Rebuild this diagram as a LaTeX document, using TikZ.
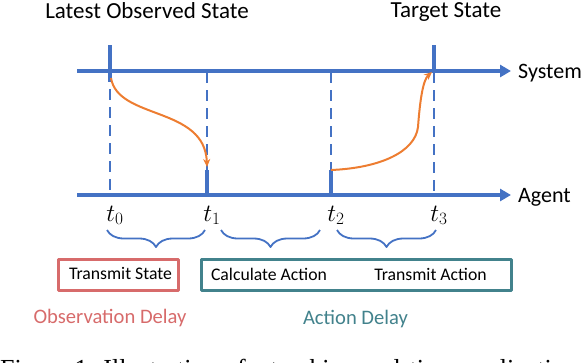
\documentclass[tikz,border=0pt]{standalone}
\usepackage{fontspec}
\setmainfont{Carlito}
\newfontfamily\capfont{Liberation Serif}
\usepackage{tikz}
\usetikzlibrary{arrows.meta,calc,positioning,decorations.pathreplacing}
\definecolor{axc}{RGB}{68,114,196}
\definecolor{orc}{RGB}{237,125,49}
\definecolor{obc}{RGB}{215,107,107}
\definecolor{acc}{RGB}{66,130,140}

\begin{document}
\begin{tikzpicture}[x=1pt,y=-1pt,line join=round,
  axisline/.style={axc,line width=4pt,-{Triangle[length=11pt,width=12pt]}},
  solidtick/.style={axc,line width=4pt},
  dashtick/.style={axc,line width=2.5pt,dash pattern=on 11pt off 7pt},
  flow/.style={orc,line width=2pt,-{Stealth[length=8pt,width=7pt]}},
  spanbrace/.style={axc,line width=1.8pt,decorate,decoration={brace,mirror,amplitude=17pt,aspect=0.5}},
  lbl/.style={font=\fontsize{23}{26}\selectfont,anchor=base},
  boxtxt/.style={font=\fontsize{17.7}{20}\selectfont,anchor=base},
  delaytxt/.style={font=\fontsize{20.6}{24}\selectfont,anchor=base}]
  \useasboundingbox (0,0) rectangle (586,362);
  % the two time lines
  \coordinate (s0) at (77,71); \coordinate (s1) at (511,71);
  \coordinate (a0) at (77,195); \coordinate (a1) at (511,195);
  \draw[axisline] (s0) -- (s1); \draw[axisline] (a0) -- (a1);
  \node[lbl,font=\fontsize{22}{26}\selectfont,anchor=base west,inner sep=1pt] (sys) at (517,78) {System};
  \node[lbl,font=\fontsize{22}{26}\selectfont,anchor=base west,inner sep=1pt] (agt) at (517,202) {Agent};
  \node[lbl] (obs) at (147,18) {Latest Observed State};
  \node[lbl] (tgt) at (446,17) {Target State};
  % instants
  \foreach \i/\x in {0/110,1/207,2/331,3/434} {
    \coordinate (up\i) at (\x,45); \coordinate (sy\i) at (\x,72);
    \coordinate (mk\i) at (\x,170); \coordinate (ag\i) at (\x,195);
    \node[font=\fontsize{23}{25}\selectfont,anchor=base] (t\i) at (\x+5,221) {$t_\i$}; }
  \draw[solidtick] (up0) -- (110,82); \draw[solidtick] (up3) -- (sy3);
  \draw[dashtick,dash phase=-7pt] (110,82) -- (ag0);
  \draw[dashtick] (sy3) -- (ag3);
  \draw[dashtick] (sy1) -- (mk1); \draw[dashtick] (sy2) -- (mk2);
  \draw[solidtick] (mk1) -- (ag1); \draw[solidtick] (mk2) -- (ag2);
  % state and action transfer
  \coordinate (o0) at (111,78); \coordinate (o1) at (207,167);
  \coordinate (c0) at (331,170); \coordinate (c1) at (432,72);
  \draw[flow] (o0) .. controls (118,120) and (205,106) .. (o1);
  \draw[flow] (c0) .. controls (380,168) and (415,152) .. (418,127) .. controls (420,100) and (423,80) .. (c1);
  % delays
  \draw[spanbrace] (107,230) -- (205,230);
  \draw[spanbrace] (221,230) -- (320,230);
  \draw[spanbrace] (337,230) -- (436,230);
  \draw[obc,line width=3pt] (58.5,259.5) rectangle (178.5,290.5);
  \draw[acc,line width=3pt] (201.5,259.5) rectangle (511.5,290.5);
  \node[boxtxt] (txs) at (120.5,279) {Transmit State};
  \node[boxtxt] (cal) at (269,280) {Calculate Action};
  \node[boxtxt] (txa) at (430.5,280) {Transmit Action};
  \node[delaytxt,text=obc] (od) at (110,323) {Observation Delay};
  \node[delaytxt,text=acc] (ad) at (355.5,324) {Action Delay};
  % caption, cut by the page edge
  \begin{scope}
    \clip (0,0) rectangle (586,362);
    \node[font=\capfont\fontsize{26}{30}\selectfont,anchor=base west,inner sep=0pt] (cap) at (0,377) {Figure 1: Illustration of a tracking real-time application};
  \end{scope}
\end{tikzpicture}
\end{document}
